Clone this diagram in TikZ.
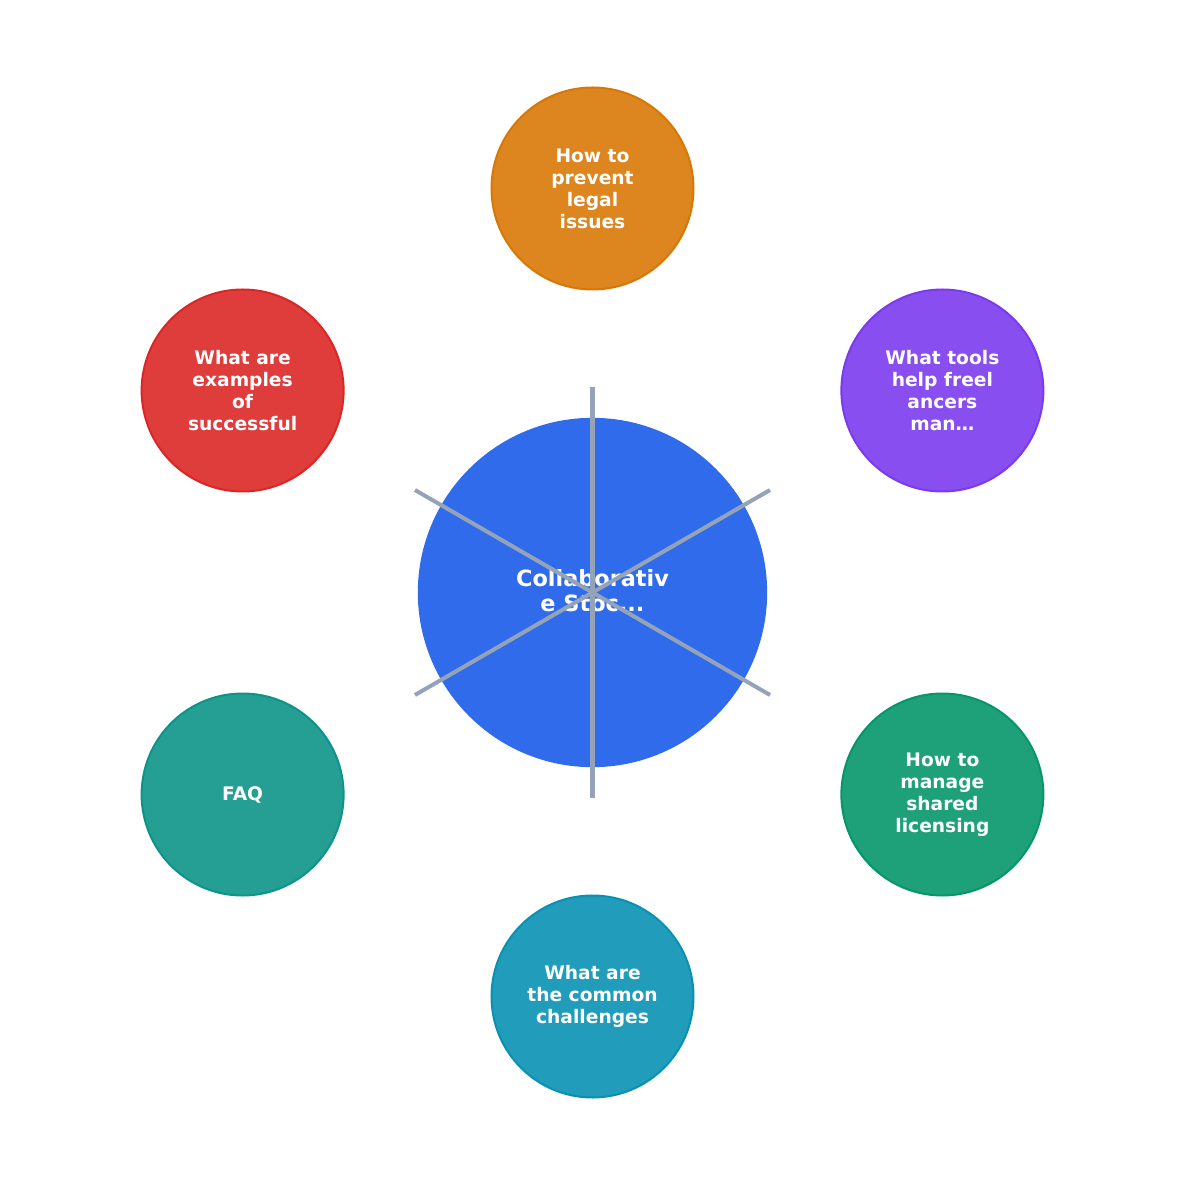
\documentclass[tikz,border=0pt]{standalone}
\usepackage{fontspec}
\setmainfont{DejaVu Sans}
\usepackage{xcolor}
\usepackage{tikz}
\usetikzlibrary{shapes}
\definecolor{hubblue}{HTML}{2563EB}
\definecolor{legalorange}{HTML}{D97706}
\definecolor{toolpurple}{HTML}{7C3AED}
\definecolor{licgreen}{HTML}{059669}
\definecolor{chalcyan}{HTML}{0891B2}
\definecolor{faqteal}{HTML}{0D9488}
\definecolor{exred}{HTML}{DC2626}
\definecolor{spokegray}{HTML}{94A3B8}
\def\topic#1#2#3#4{\node[topic,draw=#2,fill=#2!90!white] (#1) at (#3:404) {#4}}
\tikzstyle{topic}=[circle,minimum size=151.5pt,inner sep=0pt,line width=1.5pt,text=white,align=center,font=\fontsize{14}{16.5}\selectfont\bfseries]
\tikzstyle{hub}=[circle,minimum size=261pt,inner sep=0pt,line width=1pt,draw=hubblue!95!white,fill=hubblue!95!white,text=white,align=center,text depth=3pt,font=\fontsize{16.8}{18.75}\selectfont\bfseries]
\tikzstyle{spoke}=[draw=spokegray,line width=3pt]
\begin{document}
\begin{tikzpicture}[x=0.75pt,y=0.75pt]
    \useasboundingbox (-592.5,-592.5) rectangle (592.5,592.5);
    \node[hub] (hub) at (0,0) {Collaborativ\\e Stoc...};
    \topic{legal}{legalorange}{90}{How to\\prevent\\legal\\issues};
    \topic{tools}{toolpurple}{30}{What tools\\help freel\\ancers\\man…};
    \topic{licensing}{licgreen}{-30}{How to\\manage\\shared\\licensing};
    \topic{challenges}{chalcyan}{-90}{What are\\the common\\challenges};
    \topic{faq}{faqteal}{210}{FAQ};
    \topic{examples}{exred}{150}{What are\\examples\\of\\successful};
    % spokes
    \coordinate (s1) at (90:205);
    \coordinate (s2) at (30:205);
    \coordinate (s3) at (-30:205);
    \coordinate (s4) at (-90:205);
    \coordinate (s5) at (210:205);
    \coordinate (s6) at (150:205);
    \draw[spoke] (hub.center) -- (s1);
    \draw[spoke] (hub.center) -- (s2);
    \draw[spoke] (hub.center) -- (s3);
    \draw[spoke] (hub.center) -- (s4);
    \draw[spoke] (hub.center) -- (s5);
    \draw[spoke] (hub.center) -- (s6);
  \end{tikzpicture}
\end{document}
